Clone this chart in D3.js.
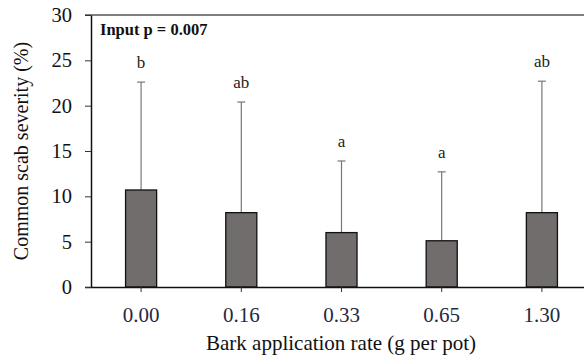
<!DOCTYPE html>
<html>
<head>
<meta charset="utf-8">
<script src="https://cdn.jsdelivr.net/npm/d3@7"></script>
<style>
  body { margin: 0; background: #fff; }
  svg { display: block; font-family: "Liberation Serif", "Times New Roman", serif; }
</style>
</head>
<body>
<svg width="584" height="358"></svg>
<script>
const rates = ["0.00", "0.16", "0.33", "0.65", "1.30"];
const severity = [10.7, 8.2, 6.0, 5.1, 8.2];
const errTop = [22.6, 20.4, 13.9, 12.7, 22.7];
const groups = ["b", "ab", "a", "a", "ab"];
const yTicks = [0, 5, 10, 15, 20, 25, 30];

const svg = d3.select('svg');
const margin = { top: 15, right: -8, bottom: 71, left: 91 };
const width = +svg.attr('width');
const height = +svg.attr('height');

const data = rates.map((r, i) => ({ rate: r, value: severity[i], top: errTop[i], group: groups[i] }));

const xScale = d3.scaleBand()
    .domain(rates)
    .range([margin.left, width - margin.right])
    .paddingInner(0.69)
    .paddingOuter(0.345);

const yScale = d3.scaleLinear()
    .domain([0, 30])
    .range([height - margin.bottom, margin.top]);

// top frame line
svg.append('line')
    .attr('x1', margin.left - 6).attr('x2', width)
    .attr('y1', yScale(30)).attr('y2', yScale(30))
    .attr('stroke', '#555').attr('stroke-width', 1.5);

// error bars (upper only)
const err = svg.append('g').attr('stroke', '#777').attr('stroke-width', 1.2);
err.selectAll('line.v')
    .data(data)
    .join('line')
    .attr('class', 'v')
    .attr('x1', d => xScale(d.rate) + xScale.bandwidth() / 2)
    .attr('x2', d => xScale(d.rate) + xScale.bandwidth() / 2)
    .attr('y1', d => yScale(d.value))
    .attr('y2', d => yScale(d.top));
err.selectAll('line.cap')
    .data(data)
    .join('line')
    .attr('class', 'cap')
    .attr('x1', d => xScale(d.rate) + xScale.bandwidth() / 2 - 4)
    .attr('x2', d => xScale(d.rate) + xScale.bandwidth() / 2 + 4)
    .attr('y1', d => yScale(d.top))
    .attr('y2', d => yScale(d.top));

// bars
svg.append('g')
    .selectAll('rect')
    .data(data)
    .join('rect')
    .attr('x', d => xScale(d.rate))
    .attr('y', d => yScale(d.value))
    .attr('width', xScale.bandwidth())
    .attr('height', d => yScale(0) - yScale(d.value))
    .attr('fill', '#716d6c')
    .attr('stroke', '#111')
    .attr('stroke-width', 1.3);

// group letters
svg.append('g')
    .selectAll('text')
    .data(data)
    .join('text')
    .attr('x', d => xScale(d.rate) + xScale.bandwidth() / 2)
    .attr('y', d => yScale(d.top) - 14)
    .attr('text-anchor', 'middle')
    .attr('font-size', 17)
    .attr('fill', '#222')
    .text(d => d.group);

// axes
const xAxis = g => g
    .attr('transform', `translate(0,${yScale(0)})`)
    .call(d3.axisBottom(xScale).tickSize(5).tickSizeOuter(0).tickPadding(15))
    .call(g => g.select('.domain').attr('d', `M${margin.left - 6},0.5H${width}`).attr('stroke', '#111').attr('stroke-width', 1.5))
    .call(g => g.selectAll('.tick line').attr('stroke', '#333'))
    .call(g => g.selectAll('.tick text').attr('font-size', 21).attr('fill', '#1f2a44').attr('font-family', '"Liberation Serif", serif'));

const yAxis = g => g
    .attr('transform', `translate(${margin.left},0)`)
    .call(d3.axisLeft(yScale).tickValues(yTicks).tickSize(6).tickSizeOuter(0).tickPadding(13))
    .call(g => g.select('.domain').attr('stroke', '#111').attr('stroke-width', 1.5))
    .call(g => g.selectAll('.tick line').attr('stroke', '#333'))
    .call(g => g.selectAll('.tick text').attr('font-size', 20.5).attr('fill', '#111').attr('font-family', '"Liberation Serif", serif'));

svg.append('g').call(xAxis);
svg.append('g').call(yAxis);

// titles
svg.append('text')
    .attr('x', 341)
    .attr('y', 350)
    .attr('text-anchor', 'middle')
    .attr('font-size', 21)
    .attr('fill', '#111')
    .text('Bark application rate (g per pot)');

svg.append('text')
    .attr('transform', `translate(28,${(margin.top + yScale(0)) / 2}) rotate(-90)`)
    .attr('text-anchor', 'middle')
    .attr('font-size', 20)
    .attr('fill', '#111')
    .text('Common scab severity (%)');

svg.append('text')
    .attr('x', 100)
    .attr('y', 35)
    .attr('font-size', 16.5)
    .attr('font-weight', 'bold')
    .attr('fill', '#111')
    .text('Input p = 0.007');
</script>
</body>
</html>
